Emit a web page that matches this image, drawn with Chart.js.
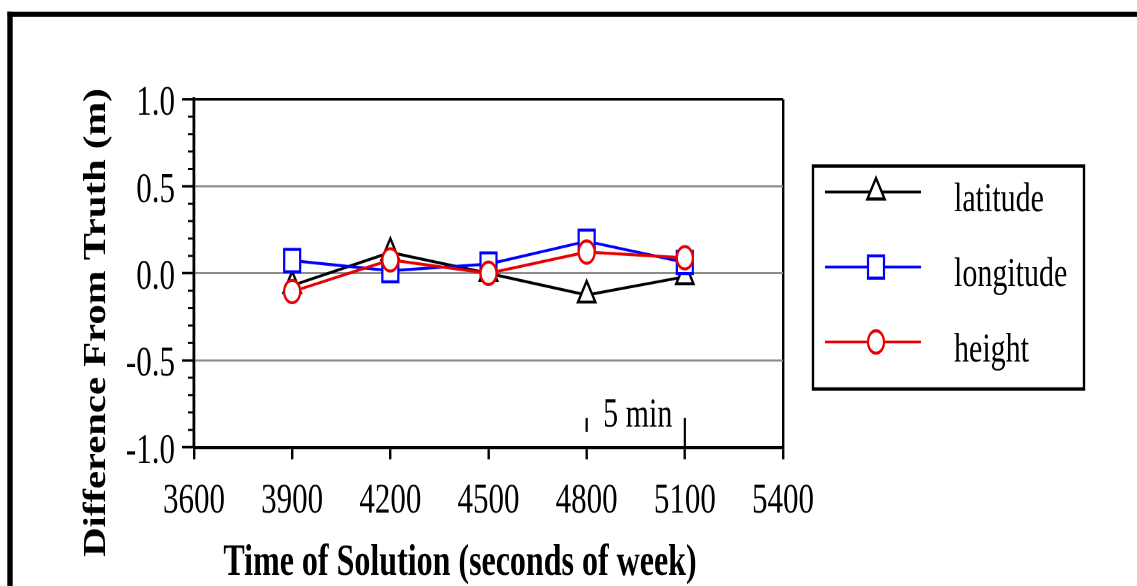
<!DOCTYPE html>
<html>
<head>
<meta charset="utf-8">
<script src="https://cdn.jsdelivr.net/npm/chart.js@4/dist/chart.umd.min.js"></script>
<style>
html, body { margin: 0; padding: 0; background: #fff; overflow: hidden; width: 1137px; height: 586px; }
#wrap { position: absolute; left: 0; top: 0; width: 1137px; height: 419px; transform: scaleY(1.398568); transform-origin: 0 0; }
</style>
</head>
<body>
<div id="wrap"><canvas id="c" width="1137" height="419"></canvas></div>
<script>
// ---- data ----
const times = [3900, 4200, 4500, 4800, 5100];
const latitude = [-0.07, 0.12, 0.0, -0.125, -0.02];
const longitude = [0.073, 0.015, 0.053, 0.184, 0.063];
const heightErr = [-0.105, 0.077, 0.0, 0.122, 0.089];
const seriesNames = ['latitude', 'longitude', 'height'];
const xTickValues = [3600, 3900, 4200, 4500, 4800, 5100, 5400];
const xTickLabels = ['3600', '3900', '4200', '4500', '4800', '5100', '5400'];
const yTickValues = [-1, -0.5, 0, 0.5, 1];
const yTickLabels = ['-1.0', '-0.5', '0.0', '0.5', '1.0'];
const intervalMarks = [4800, 5100];
const intervalLabel = '5 min';
const xTitle = 'Time of Solution (seconds of week)';
const yTitle = 'Difference From Truth (m)';

// ---- layout helpers ----
const S = 586 / 419;           // vertical stretch applied by CSS
const FONT = "'Liberation Serif', 'Times New Roman', serif";

function pts(vals) { return times.map((t, i) => ({ x: t, y: vals[i] })); }

const styles = [
  { color: '#000000', pointStyle: 'triangle', radius: 10 },
  { color: '#0000ff', pointStyle: 'rect', radius: 11.3 },
  { color: '#e80000', pointStyle: 'circle', radius: 8 }
];
const seriesValues = [latitude, longitude, heightErr];

const datasets = seriesValues.map((v, i) => ({
  label: seriesNames[i],
  data: pts(v),
  borderColor: styles[i].color,
  backgroundColor: '#ffffff',
  borderWidth: 2.1,
  pointStyle: styles[i].pointStyle,
  pointRadius: styles[i].radius,
  pointBorderWidth: 2.2,
  pointBackgroundColor: '#ffffff',
  pointBorderColor: styles[i].color,
  order: 3 - i,
  tension: 0,
  clip: false
}));

function markerAt(ctx, st, x, y) {
  ctx.save();
  ctx.fillStyle = '#ffffff';
  ctx.strokeStyle = st.color;
  ctx.lineWidth = 2.2;
  if (window.Chart && Chart.helpers && Chart.helpers.drawPoint) {
    Chart.helpers.drawPoint(ctx, { pointStyle: st.pointStyle, radius: st.radius, rotation: 0, borderWidth: 2.2 }, x, y);
  } else {
    ctx.beginPath();
    ctx.arc(x, y, st.radius, 0, Math.PI * 2);
    ctx.fill(); ctx.stroke();
  }
  ctx.restore();
}

const decor = {
  id: 'decor',
  afterDraw(chart) {
    const { ctx, chartArea: ca, scales } = chart;
    const xs = scales.x, ys = scales.y;
    ctx.save();
    // outer frame (top and left edges visible)
    ctx.fillStyle = '#000';
    ctx.fillRect(7.3, 11.7 / S, 1140, 5 / S);
    ctx.fillRect(7.3, 11.7 / S, 5.4, 440);

    // minor y ticks
    ctx.strokeStyle = '#000';
    ctx.lineWidth = 1.5;
    for (let k = -9; k <= 9; k++) {
      if (k % 5 === 0) continue;
      const py = ys.getPixelForValue(k / 10);
      ctx.beginPath();
      ctx.moveTo(ca.left - 6, py);
      ctx.lineTo(ca.left, py);
      ctx.stroke();
    }

    // "5 min" interval marker
    const xa = xs.getPixelForValue(intervalMarks[0]);
    const xb = xs.getPixelForValue(intervalMarks[1]);
    ctx.lineWidth = 2.2;
    ctx.beginPath();
    ctx.moveTo(xa, ys.getPixelForValue(-0.832));
    ctx.lineTo(xa, ys.getPixelForValue(-0.912));
    ctx.moveTo(xb, ys.getPixelForValue(-0.832));
    ctx.lineTo(xb, ca.bottom);
    ctx.stroke();
    ctx.fillStyle = '#000';
    ctx.font = '30px ' + FONT;
    ctx.textAlign = 'center';
    ctx.textBaseline = 'alphabetic';
    ctx.fillText(intervalLabel, (xa + xb) / 2 + 2, ys.getPixelForValue(-0.88));

    // legend
    const lx0 = 813, lx1 = 1084, ly0 = 166 / S, ly1 = 389 / S;
    ctx.lineWidth = 2.4;
    ctx.strokeStyle = '#000';
    ctx.strokeRect(lx0, ly0, lx1 - lx0, ly1 - ly0);
    const rows = [192 / S, 267 / S, 342 / S];
    chart.data.datasets.forEach((ds, i) => {
      const ry = rows[i];
      ctx.strokeStyle = styles[i].color;
      ctx.lineWidth = 2.0;
      ctx.beginPath();
      ctx.moveTo(825, ry);
      ctx.lineTo(921, ry);
      ctx.stroke();
      markerAt(ctx, styles[i], 876, ry);
      ctx.fillStyle = '#000';
      ctx.font = '30px ' + FONT;
      ctx.textAlign = 'left';
      ctx.textBaseline = 'alphabetic';
      ctx.fillText(ds.label, 954, ry + 13.8);
    });

    // axis titles
    ctx.fillStyle = '#000';
    ctx.font = 'bold 32px ' + FONT;
    ctx.textAlign = 'center';
    ctx.textBaseline = 'alphabetic';
    ctx.fillText(xTitle, 460, 411);
    ctx.save();
    ctx.translate(105, 230.6);
    ctx.rotate(-Math.PI / 2);
    ctx.fillText(yTitle, 0, 0, 335);
    ctx.restore();

    ctx.restore();
  }
};

new Chart(document.getElementById('c'), {
  type: 'line',
  data: { datasets },
  options: {
    responsive: false,
    devicePixelRatio: 2,
    animation: false,
    events: [],
    layout: { padding: { top: 71, right: 354, left: 0, bottom: 0 } },
    plugins: { legend: { display: false }, tooltip: { enabled: false } },
    scales: {
      x: {
        type: 'linear',
        min: 3600, max: 5400,
        afterBuildTicks: s => { s.ticks = xTickValues.map(v => ({ value: v })); },
        afterFit: s => { s.height = 419 - 319.8; },
        ticks: {
          callback: (v, i) => xTickLabels[i],
          color: '#000',
          font: { family: FONT, size: 31 },
          padding: 11.6,
          maxRotation: 0,
          autoSkip: false
        },
        grid: {
          drawOnChartArea: true,
          color: c => (c.tick && c.tick.value === 5400 ? '#000' : 'rgba(0,0,0,0)'),
          lineWidth: 2.4,
          drawTicks: true,
          tickLength: 8.6,
          tickColor: '#000',
          tickWidth: 2.4
        },
        border: { display: true, color: '#000', width: 2.1 }
      },
      y: {
        type: 'linear',
        min: -1, max: 1,
        afterBuildTicks: s => { s.ticks = yTickValues.map(v => ({ value: v })); },
        afterFit: s => { s.width = 194; },
        ticks: {
          callback: (v, i) => yTickLabels[i],
          color: '#000',
          font: { family: FONT, size: 31 },
          padding: 7,
          labelOffset: 3,
          autoSkip: false
        },
        grid: {
          color: c => (c.tick && Math.abs(c.tick.value) === 1 ? '#000' : '#8c8c8c'),
          lineWidth: c => (c.tick && c.tick.value === 1 ? 1.9 : 1.5),
          drawTicks: true,
          tickLength: 12,
          tickColor: '#000',
          tickWidth: 1.8
        },
        border: { display: true, color: '#000', width: 2.8 }
      }
    }
  },
  plugins: [decor]
});
</script>
</body>
</html>
